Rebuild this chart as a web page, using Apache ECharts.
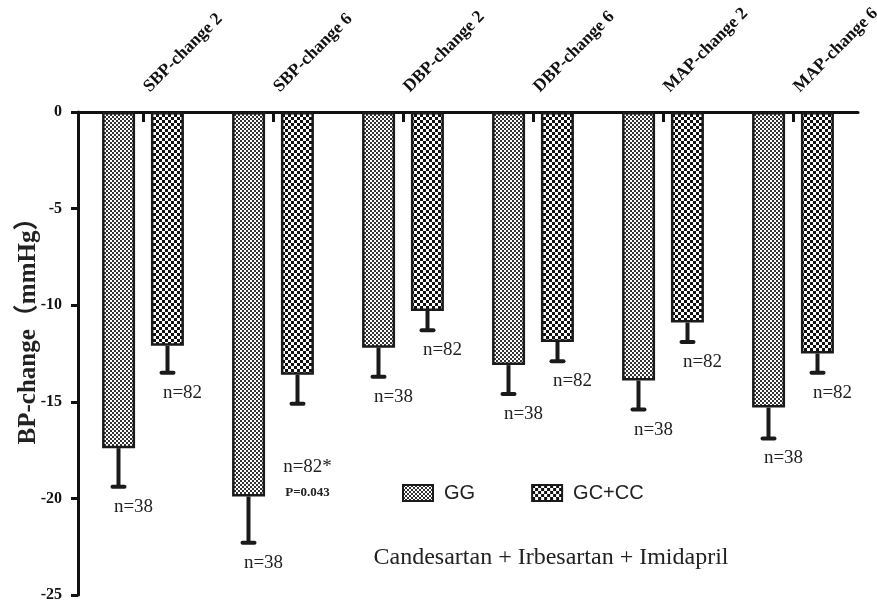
<!DOCTYPE html>
<html lang="en">
<head>
    <meta charset="UTF-8">
    <title>BP-change</title>
    <script src="https://cdn.jsdelivr.net/npm/echarts@6/dist/echarts.min.js"></script>
    <style>
        *{
            margin: 0;
            padding: 0;
        }
        body{
            background-color: #fff;
            overflow: hidden;
        }
    </style>
</head>
<body>
<div id="main" style="width:877px;height:601px;"></div>

<script>
    // data
    var categories = ['SBP-change 2', 'SBP-change 6', 'DBP-change 2', 'DBP-change 6', 'MAP-change 2', 'MAP-change 6'];
    var ggMean = [-17.4, -19.9, -12.2, -13.1, -13.9, -15.3];
    var ggSD = [2.0, 2.4, 1.5, 1.5, 1.5, 1.6];
    var gcMean = [-12.1, -13.6, -10.3, -11.9, -10.9, -12.5];
    var gcSD = [1.4, 1.5, 1.0, 1.0, 1.0, 1.0];
    var ggN = ['n=38', 'n=38', 'n=38', 'n=38', 'n=38', 'n=38'];
    var gcN = ['n=82', '', 'n=82', 'n=82', 'n=82', 'n=82'];
    // annotation next to GC+CC bar of SBP-change 6
    var noteCat = [1, 1];
    var noteValue = [-18.4, -19.7];
    var noteText = ['n=82*', 'P=0.043'];
    var yTicks = [0, -5, -10, -15, -20, -25];

    var BAR_W = 33;
    var OFFSET = 24.5;

    //棋盘格纹理
    function checker(cell, dark) {
        var c = document.createElement('canvas');
        c.width = cell * 2;
        c.height = cell * 2;
        var ctx = c.getContext('2d');
        ctx.fillStyle = '#fff';
        ctx.fillRect(0, 0, cell * 2, cell * 2);
        ctx.fillStyle = dark;
        ctx.fillRect(0, 0, cell, cell);
        ctx.fillRect(cell, cell, cell, cell);
        return c;
    }
    var fineFill = {image: checker(2, '#333'), repeat: 'repeat'};
    var coarseFill = {image: checker(3, '#111'), repeat: 'repeat'};

    function errData(mean, sd, n) {
        return mean.map(function (m, i) { return [i, m, m - sd[i], n[i]]; });
    }

    function errRender(dx) {
        return function (params, api) {
            var top = api.coord([api.value(0), api.value(1)]);
            var end = api.coord([api.value(0), api.value(2)]);
            var x = top[0] + dx;
            var label = api.value(3);
            var kids = [
                {type: 'line', shape: {x1: x, y1: top[1], x2: x, y2: end[1]},
                    style: {stroke: '#1a1a1a', lineWidth: 4}},
                {type: 'line', shape: {x1: x - 6, y1: end[1], x2: x + 6, y2: end[1]},
                    style: {stroke: '#1a1a1a', lineWidth: 4, lineCap: 'round'}}
            ];
            if (label) {
                kids.push({type: 'text', x: x + 15, y: end[1] + 20,
                    style: {text: label, font: '19px "Liberation Serif"', fill: '#222',
                        align: 'center', verticalAlign: 'middle'}});
            }
            return {type: 'group', children: kids};
        };
    }

    var myChart = echarts.init(document.getElementById('main'));
    var option = {
        animation: false,
        grid: {left: 78, right: 19, top: 112, bottom: 6, outerBoundsMode: 'none'},
        legend: {
            data: ['GG', 'GC+CC'],
            icon: 'rect',
            left: 397,
            top: 478,
            itemWidth: 30,
            itemHeight: 16,
            itemGap: 56,
            textStyle: {fontFamily: 'Liberation Sans', fontSize: 20, color: '#222', padding: [0, 0, 0, 6]}
        },
        graphic: [
            {type: 'text', x: 29, y: 325, rotation: Math.PI / 2,
                style: {text: 'BP-change（mmHg）', font: 'bold 25px "Liberation Serif", "Noto Sans CJK SC"',
                    fill: '#222', align: 'center', verticalAlign: 'middle'}},
            {type: 'text', x: 551, y: 558,
                style: {text: 'Candesartan + Irbesartan + Imidapril', font: '24px "Liberation Serif"',
                    fill: '#222', align: 'center', verticalAlign: 'middle'}}
        ],
        xAxis: {
            type: 'category',
            position: 'top',
            data: categories,
            axisLine: {lineStyle: {color: '#111', width: 3}},
            axisTick: {show: true, inside: true, alignWithLabel: true, length: 10, lineStyle: {color: '#111', width: 3}},
            axisLabel: {rotate: 45, margin: 19, padding: [0, 0, 0, 5], color: '#111',
                fontFamily: 'Liberation Serif', fontWeight: 'bold', fontSize: 17.5}
        },
        yAxis: {
            type: 'value',
            min: yTicks[yTicks.length - 1],
            max: yTicks[0],
            interval: 5,
            splitLine: {show: false},
            axisLine: {show: true, lineStyle: {color: '#111', width: 3}},
            axisTick: {show: true, length: 7, lineStyle: {color: '#111', width: 3}},
            axisLabel: {margin: 16, color: '#111', fontFamily: 'Liberation Serif',
                fontWeight: 'bold', fontSize: 16}
        },
        series: [
            {
                name: 'GG',
                type: 'bar',
                data: ggMean,
                barWidth: BAR_W,
                barGap: '48%',
                itemStyle: {color: fineFill, borderColor: '#1a1a1a', borderWidth: 2.5}
            },
            {
                name: 'GC+CC',
                type: 'bar',
                data: gcMean,
                barWidth: BAR_W,
                itemStyle: {color: coarseFill, borderColor: '#1a1a1a', borderWidth: 2.5}
            },
            {
                name: 'errGG',
                type: 'custom',
                renderItem: errRender(-OFFSET),
                data: errData(ggMean, ggSD, ggN),
                encode: {x: 0, y: 1},
                clip: false,
                z: 5
            },
            {
                name: 'errGC',
                type: 'custom',
                renderItem: errRender(OFFSET),
                data: errData(gcMean, gcSD, gcN),
                encode: {x: 0, y: 1},
                clip: false,
                z: 5
            },
            {
                name: 'note',
                type: 'custom',
                renderItem: function (params, api) {
                    var p = api.coord([api.value(0), api.value(1)]);
                    var bold = params.dataIndex === 1;
                    return {type: 'text', x: p[0] + OFFSET + 10, y: p[1],
                        style: {text: noteText[params.dataIndex],
                            font: bold ? 'bold 13px "Liberation Serif"' : '19px "Liberation Serif"',
                            fill: '#222', align: 'center', verticalAlign: 'middle'}};
                },
                data: noteCat.map(function (c, i) { return [c, noteValue[i]]; }),
                encode: {x: 0, y: 1},
                clip: false,
                z: 5
            }
        ]
    };
    myChart.setOption(option);
</script>
</body>
</html>
